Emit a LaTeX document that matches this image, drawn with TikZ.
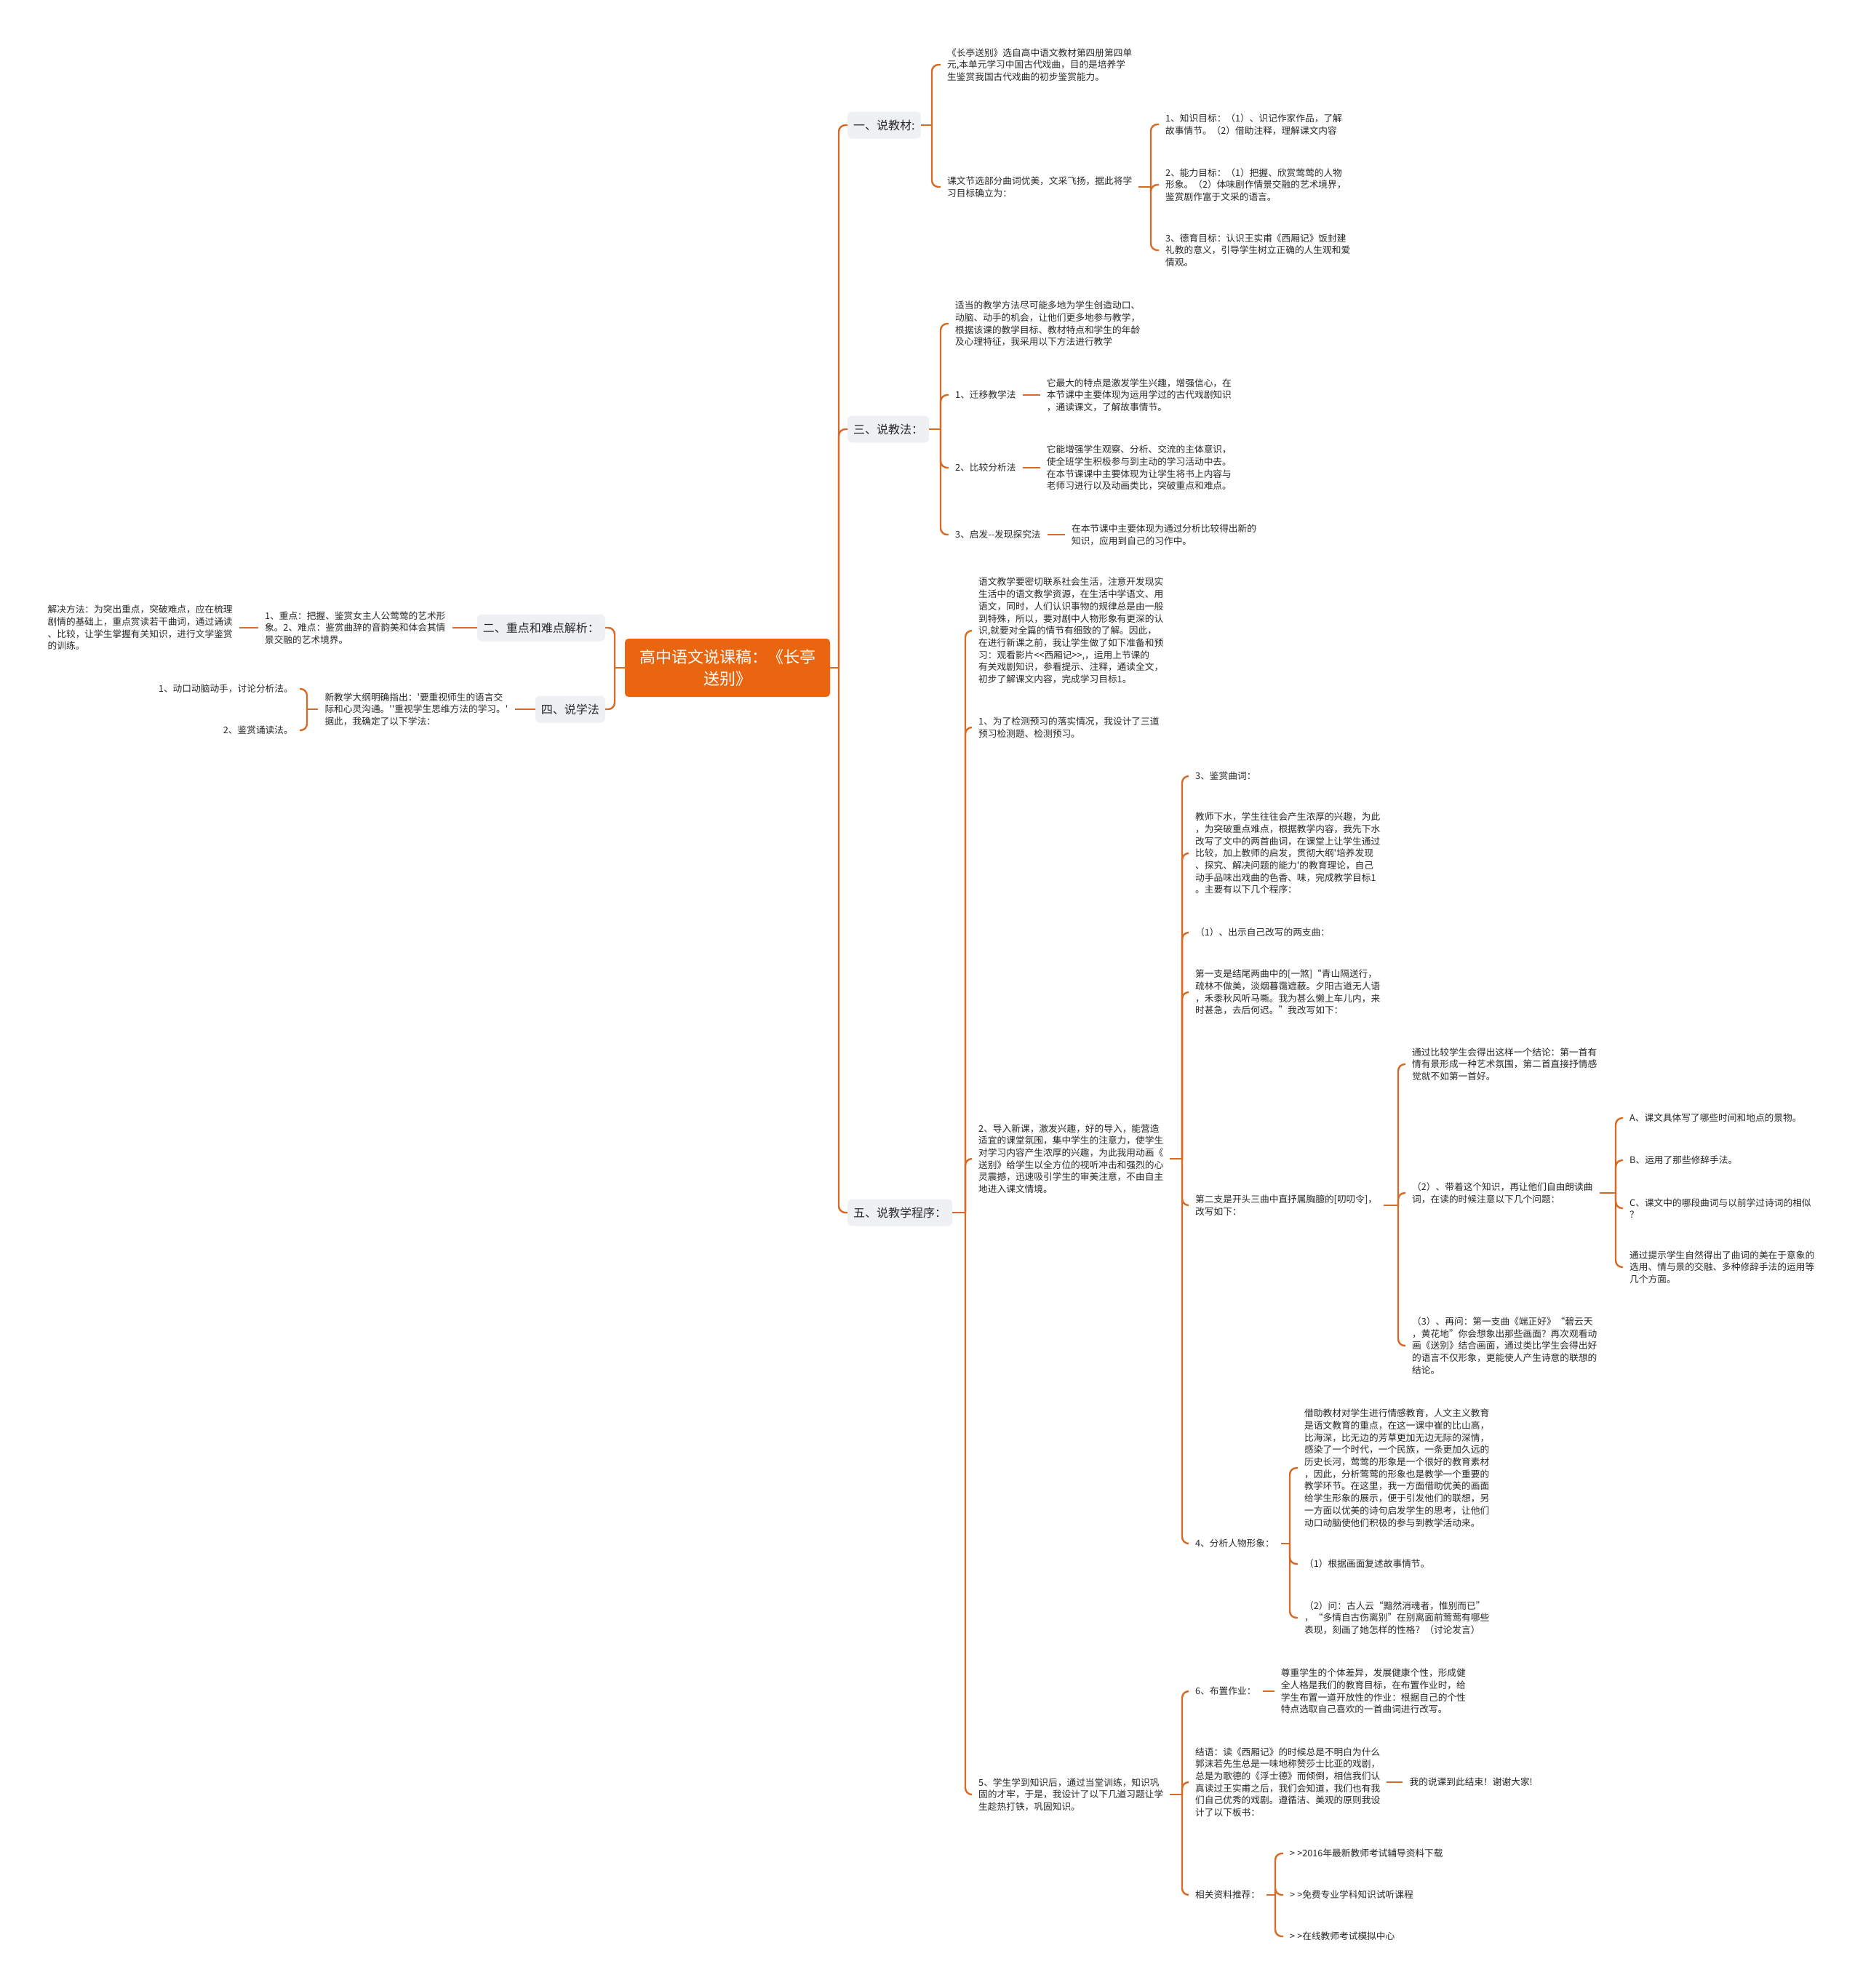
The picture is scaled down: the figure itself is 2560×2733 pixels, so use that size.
\documentclass[tikz,border=0pt]{standalone}
\usepackage{fontspec}
\newfontfamily\cjk{Noto Sans CJK SC}
\usetikzlibrary{positioning}
\definecolor{linkc}{RGB}{214,107,38}
\definecolor{rootc}{RGB}{233,101,16}
\definecolor{boxc}{RGB}{238,240,243}
\definecolor{textc}{RGB}{40,40,40}

\begin{document}
\begin{tikzpicture}[x=1pt, y=-1pt,
  root/.style={fill=rootc, rounded corners=5pt, minimum width=282pt, minimum height=80pt, align=center, text=white, font=\cjk\fontsize{22}{30}\selectfont},
  lvone/.style={fill=boxc, rounded corners=6pt, minimum height=37pt, inner xsep=8pt, text=textc, font=\cjk\fontsize{16}{20}\selectfont},
  txt/.style={align=left, inner xsep=9pt, inner ysep=2pt, text=textc, font=\cjk\fontsize{12.7}{16.7}\selectfont},
  link/.style={draw=linkc, line width=2.4pt, rounded corners=9pt},
  node distance=20pt]
  \useasboundingbox[fill=white] (0,0) rectangle (2560,2733);

  % centre
  \node[root] (top) at (1000,918) {高中语文说课稿：《长亭\\送别》};
  \node[lvone, anchor=west] (jc) at (1165,172) {一、说教材:};
  \node[lvone, anchor=west] (jf) at (1165,590) {三、说教法：};
  \node[lvone, anchor=west] (cx) at (1165,1667) {五、说教学程序：};
  \node[lvone, anchor=east] (zd) at (832,863) {二、重点和难点解析：};
  \node[lvone, anchor=east] (xf) at (832,975) {四、说学法};

  % left side
  \node[txt, left=34pt of zd] (k1) {1、重点：把握、鉴赏女主人公莺莺的艺术形\\象。2、难点：鉴赏曲辞的音韵美和体会其情\\景交融的艺术境界。};
  \node[txt, left=26pt of k1] (k2) {解决方法：为突出重点，突破难点，应在梳理\\剧情的基础上，重点赏读若干曲词，通过诵读\\、比较，让学生掌握有关知识，进行文学鉴赏\\的训练。};
  \node[txt, left=28pt of xf] (k3) {新教学大纲明确指出：'要重视师生的语言交\\际和心灵沟通。'\kern0pt'重视学生思维方法的学习。'\\据此，我确定了以下学法：};
  \node[txt, align=right, anchor=east] (k4) at (412,947) {1、动口动脑动手，讨论分析法。};
  \node[txt, align=right, anchor=east] (k5) at (412,1004) {2、鉴赏诵读法。};

  % 一
  \node[txt, anchor=west] (jc1) at (1293,89) {《长亭送别》选自高中语文教材第四册第四单\\元,本单元学习中国古代戏曲，目的是培养学\\生鉴赏我国古代戏曲的初步鉴赏能力。};
  \node[txt, anchor=west] (jc2) at (1293,257) {课文节选部分曲词优美，文采飞扬，据此将学\\习目标确立为：};
  \node[txt, anchor=west] (g1) at (1593,171) {1、知识目标：（1）、识记作家作品，了解\\故事情节。（2）借助注释，理解课文内容};
  \node[txt, anchor=west] (g2) at (1593,254) {2、能力目标：（1）把握、欣赏莺莺的人物\\形象。（2）体味剧作情景交融的艺术境界，\\鉴赏剧作富于文采的语言。};
  \node[txt, anchor=west] (g3) at (1593,344) {3、德育目标：认识王实甫《西厢记》饭封建\\礼教的意义，引导学生树立正确的人生观和爱\\情观。};

  % 三
  \node[txt, anchor=west] (m0) at (1304,445) {适当的教学方法尽可能多地为学生创造动口、\\动脑、动手的机会，让他们更多地参与教学，\\根据该课的教学目标、教材特点和学生的年龄\\及心理特征，我采用以下方法进行教学};
  \node[txt, anchor=west] (m1) at (1304,543) {1、迁移教学法};
  \node[txt, anchor=west] (m2) at (1304,643) {2、比较分析法};
  \node[txt, anchor=west] (m3) at (1304,735) {3、启发-\kern0pt-发现探究法};
  \node[txt, right=24pt of m1] (m1d) {它最大的特点是激发学生兴趣，增强信心，在\\本节课中主要体现为运用学过的古代戏剧知识\\，通读课文，了解故事情节。};
  \node[txt, right=24pt of m2] (m2d) {它能增强学生观察、分析、交流的主体意识，\\使全班学生积极参与到主动的学习活动中去。\\在本节课课中主要体现为让学生将书上内容与\\老师习进行以及动画类比，突破重点和难点。};
  \node[txt, right=24pt of m3] (m3d) {在本节课中主要体现为通过分析比较得出新的\\知识，应用到自己的习作中。};

  % 五
  \node[txt, anchor=west] (p0) at (1336,867) {语文教学要密切联系社会生活，注意开发现实\\生活中的语文教学资源，在生活中学语文、用\\语文，同时，人们认识事物的规律总是由一般\\到特殊，所以，要对剧中人物形象有更深的认\\识,就要对全篇的情节有细致的了解。因此，\\在进行新课之前，我让学生做了如下准备和预\\习：观看影片<\kern0pt<西厢记>\kern0pt>,，运用上节课的\\有关戏剧知识，参看提示、注释，通读全文，\\初步了解课文内容，完成学习目标1。};
  \node[txt, anchor=west] (p1) at (1336,1000) {1、为了检测预习的落实情况，我设计了三道\\预习检测题、检测预习。};
  \node[txt, anchor=west] (p2) at (1336,1593) {2、导入新课，激发兴趣，好的导入，能营造\\适宜的课堂氛围，集中学生的注意力，使学生\\对学习内容产生浓厚的兴趣，为此我用动画《\\送别》给学生以全方位的视听冲击和强烈的心\\灵震撼，迅速吸引学生的审美注意，不由自主\\地进入课文情境。};
  \node[txt, anchor=west] (p5) at (1336,2467) {5、学生学到知识后，通过当堂训练，知识巩\\固的才牢，于是，我设计了以下几道习题让学\\生趁热打铁，巩固知识。};

  \node[txt, anchor=west] (q1) at (1634,1067) {3、鉴赏曲词：};
  \node[txt, anchor=west] (q2) at (1634,1173) {教师下水，学生往往会产生浓厚的兴趣，为此\\，为突破重点难点，根据教学内容，我先下水\\改写了文中的两首曲词，在课堂上让学生通过\\比较，加上教师的启发，贯彻大纲'培养发现\\、探究、解决问题的能力'的教育理论，自己\\动手品味出戏曲的色香、味，完成教学目标1\\。主要有以下几个程序：};
  \node[txt, anchor=west] (q3) at (1634,1282) {（1）、出示自己改写的两支曲：};
  \node[txt, anchor=west] (q4) at (1634,1364) {第一支是结尾两曲中的[一煞]“青山隔送行，\\疏林不做美，淡烟暮霭遮蔽。夕阳古道无人语\\，禾黍秋风听马嘶。我为甚么懒上车儿内，来\\时甚急，去后何迟。”我改写如下：};
  \node[txt, anchor=west] (q5) at (1634,1657) {第二支是开头三曲中直抒属胸臆的[叨叨令]，\\改写如下：};
  \node[txt, anchor=west] (q6) at (1634,2122) {4、分析人物形象：};

  \node[txt, anchor=west] (r1) at (1932,1463) {通过比较学生会得出这样一个结论：第一首有\\情有景形成一种艺术氛围，第二首直接抒情感\\觉就不如第一首好。};
  \node[txt, anchor=west] (r2) at (1932,1640) {（2）、带着这个知识，再让他们自由朗读曲\\词，在读的时候注意以下几个问题：};
  \node[txt, anchor=west] (r3) at (1932,1850) {（3）、再问：第一支曲《端正好》“碧云天\\，黄花地”你会想象出那些画面？再次观看动\\画《送别》结合画面，通过类比学生会得出好\\的语言不仅形象，更能使人产生诗意的联想的\\结论。};

  \node[txt, anchor=west] (s1) at (2231,1537) {A、课文具体写了哪些时间和地点的景物。};
  \node[txt, anchor=west] (s2) at (2231,1595) {B、运用了那些修辞手法。};
  \node[txt, anchor=west] (s3) at (2231,1661) {C、课文中的哪段曲词与以前学过诗词的相似\\？};
  \node[txt, anchor=west] (s4) at (2231,1742) {通过提示学生自然得出了曲词的美在于意象的\\选用、情与景的交融、多种修辞手法的运用等\\几个方面。};

  \node[txt, anchor=west] (t1) at (1784,2018) {借助教材对学生进行情感教育，人文主义教育\\是语文教育的重点，在这一课中崔的比山高，\\比海深，比无边的芳草更加无边无际的深情，\\感染了一个时代，一个民族，一条更加久远的\\历史长河，莺莺的形象是一个很好的教育素材\\，因此，分析莺莺的形象也是教学一个重要的\\教学环节。在这里，我一方面借助优美的画面\\给学生形象的展示，便于引发他们的联想，另\\一方面以优美的诗句启发学生的思考，让他们\\动口动脑使他们积极的参与到教学活动来。};
  \node[txt, anchor=west] (t2) at (1784,2150) {（1）根据画面复述故事情节。};
  \node[txt, anchor=west] (t3) at (1784,2224) {（2）问：古人云“黯然消魂者，惟别而已”\\，“多情自古伤离别”在别离面前莺莺有哪些\\表现，刻画了她怎样的性格？（讨论发言）};

  \node[txt, anchor=west] (u1) at (1634,2325) {6、布置作业：};
  \node[txt, right=16pt of u1] (u1d) {尊重学生的个体差异，发展健康个性，形成健\\全人格是我们的教育目标，在布置作业时，给\\学生布置一道开放性的作业：根据自己的个性\\特点选取自己喜欢的一首曲词进行改写。};
  \node[txt, anchor=west] (u2) at (1634,2450) {结语：读《西厢记》的时候总是不明白为什么\\郭沫若先生总是一味地称赞莎士比亚的戏剧，\\总是为歌德的《浮士德》而倾倒，相信我们认\\真读过王实甫之后，我们会知道，我们也有我\\们自己优秀的戏剧。遵循洁、美观的原则我设\\计了以下板书：};
  \node[txt, right=22pt of u2] (u2d) {我的说课到此结束！谢谢大家!};
  \node[txt, anchor=west] (u3) at (1634,2605) {相关资料推荐：};
  \node[txt, anchor=west] (v1) at (1764,2548) {>\kern3pt>2016年最新教师考试辅导资料下载};
  \node[txt, anchor=west] (v2) at (1764,2605) {>\kern3pt>免费专业学科知识试听课程};
  \node[txt, anchor=west] (v3) at (1764,2662) {>\kern3pt>在线教师考试模拟中心};

  % bracket points
  \coordinate (bl) at (845,918);
  \coordinate (br) at (1153,918);
  \coordinate (bxf) at (422,975);
  \coordinate (bjc) at (1281,172);
  \coordinate (bjc2) at (1582,257);
  \coordinate (bjf) at (1293,590);
  \coordinate (bcx) at (1327,1667);
  \coordinate (bp2) at (1625,1593);
  \coordinate (bq5) at (1922,1657);
  \coordinate (br2) at (2221,1640);
  \coordinate (bq6) at (1773,2122);
  \coordinate (bp5) at (1625,2467);
  \coordinate (bu3) at (1753,2605);

  % connectors
  \draw[link] (top.west) -- (bl);
  \draw[link] (bl) |- (zd.east);
  \draw[link] (bl) |- (xf.east);
  \draw[link] (zd.west) -- (k1.east);
  \draw[link] (k1.west) -- (k2.east);
  \draw[link] (xf.west) -- (k3.east);
  \draw[link] (k3.west) -- (bxf);
  \draw[link] (bxf) |- (k4.east);
  \draw[link] (bxf) |- (k5.east);

  \draw[link] (top.east) -- (br);
  \draw[link] (br) |- (jc.west);
  \draw[link] (br) |- (jf.west);
  \draw[link] (br) |- (cx.west);

  \draw[link] (jc.east) -- (bjc);
  \draw[link] (bjc) |- (jc1.west);
  \draw[link] (bjc) |- (jc2.west);
  \draw[link] (jc2.east) -- (bjc2);
  \draw[link] (bjc2) |- (g1.west);
  \draw[link] (bjc2) |- (g2.west);
  \draw[link] (bjc2) |- (g3.west);

  \draw[link] (jf.east) -- (bjf);
  \draw[link] (bjf) |- (m0.west);
  \draw[link] (bjf) |- (m1.west);
  \draw[link] (bjf) |- (m2.west);
  \draw[link] (bjf) |- (m3.west);
  \draw[link] (m1.east) -- (m1d.west);
  \draw[link] (m2.east) -- (m2d.west);
  \draw[link] (m3.east) -- (m3d.west);

  \draw[link] (cx.east) -- (bcx);
  \draw[link] (bcx) |- (p0.west);
  \draw[link] (bcx) |- (p1.west);
  \draw[link] (bcx) |- (p2.west);
  \draw[link] (bcx) |- (p5.west);

  \draw[link] (p2.east) -- (bp2);
  \draw[link] (bp2) |- (q1.west);
  \draw[link] (bp2) |- (q2.west);
  \draw[link] (bp2) |- (q3.west);
  \draw[link] (bp2) |- (q4.west);
  \draw[link] (bp2) |- (q5.west);
  \draw[link] (bp2) |- (q6.west);

  \draw[link] (q5.east) -- (bq5);
  \draw[link] (bq5) |- (r1.west);
  \draw[link] (bq5) |- (r2.west);
  \draw[link] (bq5) |- (r3.west);
  \draw[link] (r2.east) -- (br2);
  \draw[link] (br2) |- (s1.west);
  \draw[link] (br2) |- (s2.west);
  \draw[link] (br2) |- (s3.west);
  \draw[link] (br2) |- (s4.west);

  \draw[link] (q6.east) -- (bq6);
  \draw[link] (bq6) |- (t1.west);
  \draw[link] (bq6) |- (t2.west);
  \draw[link] (bq6) |- (t3.west);

  \draw[link] (p5.east) -- (bp5);
  \draw[link] (bp5) |- (u1.west);
  \draw[link] (bp5) |- (u2.west);
  \draw[link] (bp5) |- (u3.west);
  \draw[link] (u1.east) -- (u1d.west);
  \draw[link] (u2.east) -- (u2d.west);
  \draw[link] (u3.east) -- (bu3);
  \draw[link] (bu3) |- (v1.west);
  \draw[link] (bu3) |- (v2.west);
  \draw[link] (bu3) |- (v3.west);
\end{tikzpicture}
\end{document}
